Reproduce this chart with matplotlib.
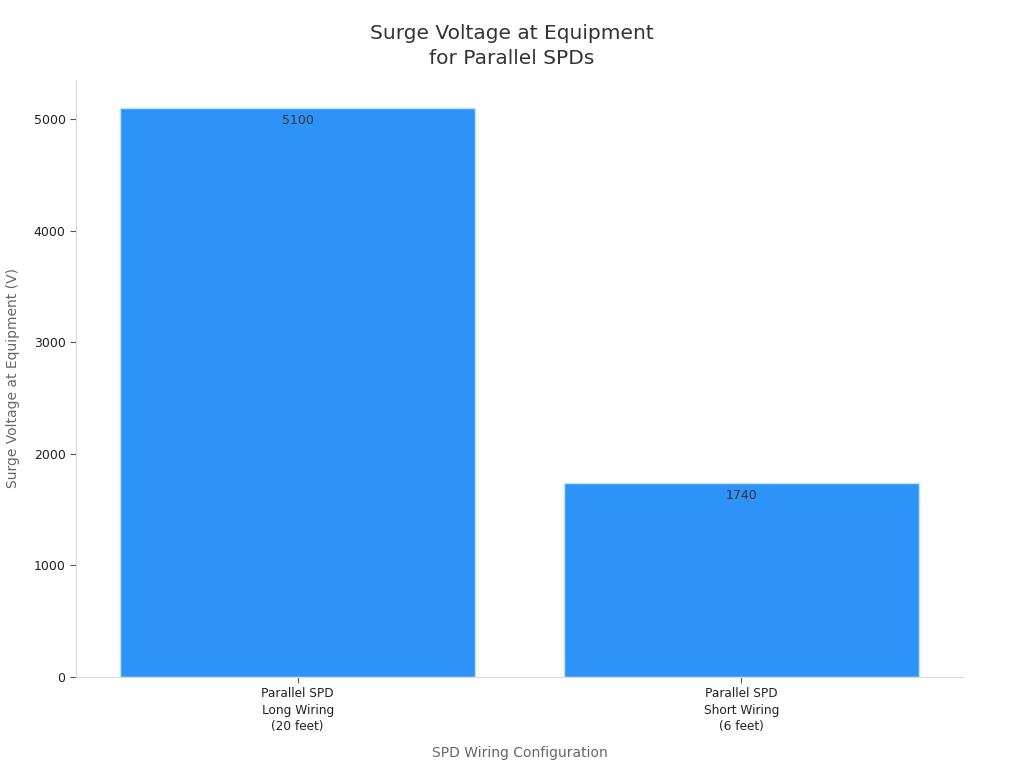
import matplotlib
matplotlib.use("Agg")
import matplotlib.pyplot as plt

categories = ["Parallel SPD\nLong Wiring\n(20 feet)", "Parallel SPD\nShort Wiring\n(6 feet)"]
values = [5100, 1740]
yticks = [0, 1000, 2000, 3000, 4000, 5000]

plt.rcParams['font.family'] = ['DejaVu Sans']
fig = plt.figure(figsize=(10.24, 7.68), dpi=100)
ax = fig.add_axes([0.0742, 0.1185, 0.8662, 0.7775])

x = list(range(len(categories)))
bars = ax.bar(x, values, width=0.8, color="#2E93F9", edgecolor="#C6E1FC", linewidth=1)
for xi, v in zip(x, values):
    ax.text(xi, v - 50, f"{v}", ha="center", va="top", fontsize=9, color="#333333")

ax.set_xlim(-0.5, 1.5)
ax.set_ylim(0, 5355)
ax.set_xticks(x)
ax.set_xticklabels(categories, fontsize=8.7, color="#222222", linespacing=1.35)
ax.set_yticks(yticks)
ax.set_yticklabels([str(t) for t in yticks], fontsize=9, color="#222222")
ax.tick_params(axis="both", color="#555555", length=4)
for s in ["top", "right"]:
    ax.spines[s].set_visible(False)
for s in ["left", "bottom"]:
    ax.spines[s].set_color("#D9D9D9")

ax.set_xlabel("SPD Wiring Configuration", fontsize=10, color="#666666", labelpad=9)
ax.set_ylabel("Surge Voltage at Equipment (V)", fontsize=10, color="#666666", labelpad=10)
fig.text(0.5, 1 - 46 / 768, "Surge Voltage at Equipment\nfor Parallel SPDs", fontsize=14.5,
         color="#333333", ha="center", va="center", linespacing=1.4)

fig.savefig("out.png", dpi=100)
